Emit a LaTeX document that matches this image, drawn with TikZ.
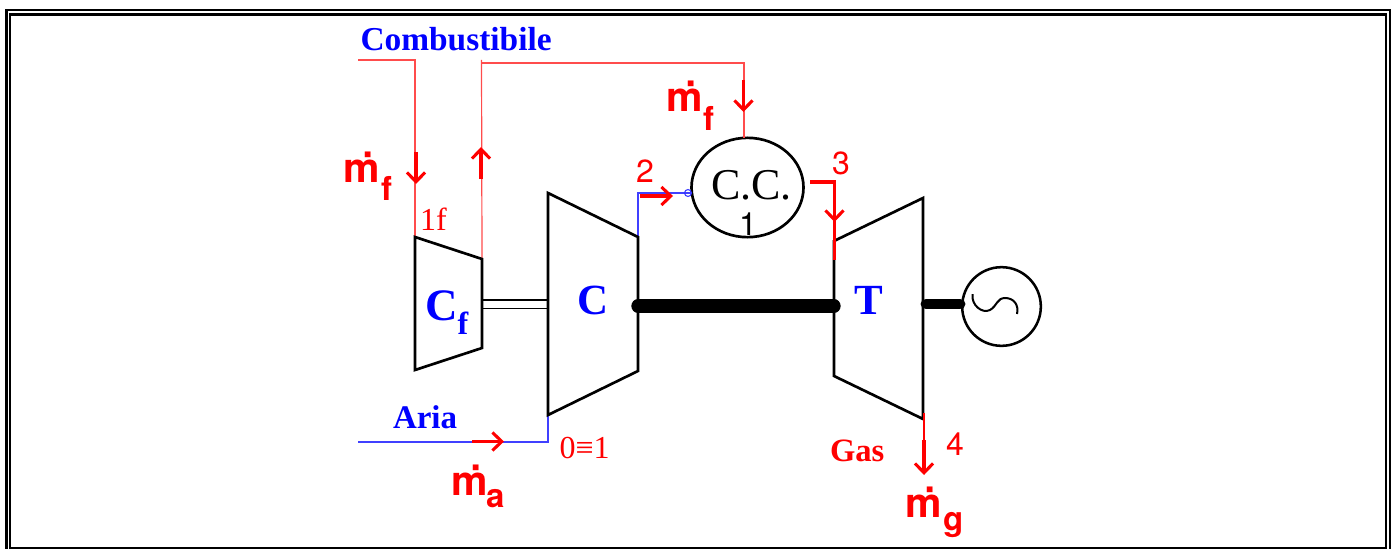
\documentclass[tikz,border=0pt]{standalone}
\usepackage{fontspec}
\setmainfont{Liberation Serif}
\newfontfamily\arialfont{TeX Gyre Heros}
\usetikzlibrary{arrows.meta,shapes.geometric}
\newcommand{\fsz}[1]{\fontsize{\the\dimexpr #1pt*3/4\relax}{\the\dimexpr #1pt*9/10\relax}\selectfont}
\definecolor{flowred}{RGB}{255,0,0}
\definecolor{flowblue}{RGB}{0,0,255}
\tikzset{
  lbl/.style={inner sep=0pt,outer sep=0pt,anchor=base west},
  bluelbl/.style={lbl,text=flowblue,font=\bfseries},
  redserif/.style={lbl,text=flowred},
  redsans/.style={lbl,text=flowred,font=\arialfont},
  redbold/.style={lbl,text=flowred,font=\arialfont\bfseries},
  machine/.style={draw=black,line width=2pt,line join=miter},
  frameline/.style={draw=black,line width=1.8pt},
  redpipe/.style={draw=flowred!70,line width=0.9pt},
  bluepipe/.style={draw=flowblue!75,line width=0.9pt},
  flow/.style={draw=flowred,line width=2.3pt,-{Straight Barb[length=7pt,width=13.5pt,line width=2.3pt]}},
  shaft/.style={draw=black,line cap=round},
}
\begin{document}
\begin{tikzpicture}[x=0.75pt,y=-0.75pt]
\useasboundingbox (0,0) rectangle (1394,549);
% frame
\draw[frameline] (6.3,549) -- (6.3,10.3) -- (1390,10.3) -- (1390,549);
\draw[frameline] (10,14.5) rectangle (1386,548);
% key points
\coordinate (cfTL) at (415,237); \coordinate (cfTR) at (482,259);
\coordinate (cfBR) at (482,348); \coordinate (cfBL) at (415,370);
\coordinate (cTL) at (548,193); \coordinate (cTR) at (638,237);
\coordinate (cBR) at (638,371); \coordinate (cBL) at (548,415);
\coordinate (tTL) at (834,241); \coordinate (tTR) at (923,198);
\coordinate (tBR) at (923,419); \coordinate (tBL) at (834,376);
% combustor, generator
\node[draw=black,line width=2pt,shape=ellipse,minimum width=84pt,minimum height=74.5pt,inner sep=0pt,outer sep=0pt] (cc) at (747.5,187.5) {};
\node[draw=black,line width=1.9pt,shape=circle,minimum size=59pt,inner sep=0pt,outer sep=0pt] (gen) at (1001.5,306.5) {};
% fuel pipes
\coordinate (fuelin) at (358,60); \coordinate (fuelbend) at (415,60);
\coordinate (fueltop) at (481.5,60); \coordinate (fuelright) at (481.5,63);
\coordinate (fuelcc) at (744,63);
\draw[redpipe] (fuelin) -- (fuelbend) -- (cfTL);
\draw[redpipe] (cfTR) -- (fueltop);
\draw[redpipe] (fuelright) -- (fuelcc) -- (fuelcc |- cc.north);
% air pipes
\coordinate (airin) at (358,442); \coordinate (airbend) at (548,442);
\draw[bluepipe] (airin) -- (airbend) -- (cBL);
\coordinate (outbend) at (638,193); \coordinate (ccport) at (692,193);
\draw[bluepipe] (cTR) -- (outbend) -- (ccport);
\node[draw=flowblue!80,line width=0.8pt,shape=circle,minimum size=5.2pt,inner sep=0pt] (portc) at (688,193) {};
% machines
\draw[machine] (cfTL) -- (cfTR) -- (cfBR) -- (cfBL) -- cycle;
\draw[machine] (cTL) -- (cTR) -- (cBR) -- (cBL) -- cycle;
\draw[machine] (tTL) -- (tTR) -- (tBR) -- (tBL) -- cycle;
% shafts
\coordinate (s1a) at (482,300); \coordinate (s1b) at (548,300);
\coordinate (s2a) at (482,308.7); \coordinate (s2b) at (548,308.7);
\draw[black,line width=1.1pt] (s1a) -- (s1b) (s2a) -- (s2b);
\coordinate (m1a) at (638,306); \coordinate (m1b) at (834,306);
\draw[shaft,line width=10pt] (m1a) -- (m1b);
\coordinate (m2a) at (926,304); \coordinate (m2b) at (960,304);
\draw[shaft,line width=8.2pt] (m2a) -- (m2b);
% generator sine
\coordinate (sinA) at (972.5,294); \coordinate (sinB) at (1017,314);
\draw[black,line width=1.5pt] (sinA) .. controls (971,305) and (982,314) .. (990,310)
   .. controls (997,306) and (997,298) .. (1005,298)
   .. controls (1014,298) and (1019,305) .. (sinB);
% flow arrows
\coordinate (a1s) at (416,152); \coordinate (a1e) at (416,184);
\draw[flow] (a1s) -- (a1e);
\coordinate (a2s) at (481,179); \coordinate (a2e) at (481,147);
\draw[flow] (a2s) -- (a2e);
\coordinate (a3s) at (743.5,80); \coordinate (a3e) at (743.5,112);
\draw[flow] (a3s) -- (a3e);
\coordinate (a4s) at (640,196); \coordinate (a4e) at (673,196);
\draw[flow] (a4s) -- (a4e);
\coordinate (a5s) at (472,441.5); \coordinate (a5e) at (504,441.5);
\draw[flow] (a5s) -- (a5e);
\coordinate (a6s) at (924,413); \coordinate (a6m) at (924,440); \coordinate (a6e) at (924,475);
\draw[draw=flowred,line width=1.4pt] (a6s) -- (a6m);
\draw[flow] (a6m) -- (a6e);
% exit of combustor
\coordinate (b3a) at (810,182); \coordinate (b3b) at (834.5,182);
\coordinate (b3c) at (834.5,260); \coordinate (b3d) at (834.5,222);
\draw[draw=flowred,line width=2.7pt,line join=miter] (b3a) -- (b3b) -- (b3c);
\draw[flow] (b3b) -- (b3d);
% labels
\node[bluelbl] (combl) at (360.5,51) {\fsz{33.4}Combustibile};
\node[bluelbl] (arial) at (393,428) {\fsz{33}Aria};
\node[bluelbl] (cfl) at (425,320) {\fsz{45}C};
\node[bluelbl] (cfsub) at (457.5,334) {\fsz{32}f};
\node[bluelbl] (cl) at (577,314) {\fsz{43}C};
\node[bluelbl] (tl) at (854,314) {\fsz{43}T};
\node[lbl] (cctext) at (711,199) {\fsz{44}C.C.};
\node[lbl,font=\arialfont] (one) at (739,235) {\fsz{32}1};
\node[redserif] (l1f) at (420,230) {\fsz{32}1f};
\node[redserif] (l01) at (559.5,458) {\fsz{32}0≡1};
\node[redsans] (l2) at (636,182) {\fsz{32}2};
\node[redsans] (l3) at (832,175) {\fsz{32}3};
\node[redsans] (l4) at (946,455) {\fsz{32}4};
\node[redserif,font=\bfseries] (gasl) at (830,461) {\fsz{32.6}Gas};
\node[redbold] (mf1) at (343,182) {\fsz{41}\.m};
\node[redbold] (mf1s) at (381,200) {\fsz{33}f};
\node[redbold] (mf2) at (666,112) {\fsz{41}\.m};
\node[redbold] (mf2s) at (703,131) {\fsz{33}f};
\node[redbold] (ma) at (451,495) {\fsz{41}\.m};
\node[redbold] (mas) at (486,507) {\fsz{33}a};
\node[redbold] (mg) at (905,517) {\fsz{41}\.m};
\node[redbold] (mgs) at (943,530) {\fsz{33}g};
\end{tikzpicture}
\end{document}
